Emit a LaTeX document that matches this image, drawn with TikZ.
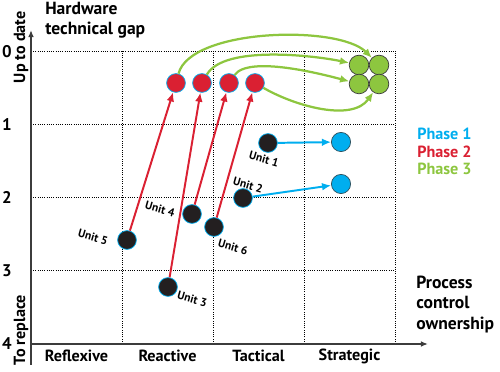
\documentclass[tikz,border=0pt]{standalone}
\usepackage{fontspec}
\setmainfont{PT Sans}
\usetikzlibrary{positioning,arrows.meta}

\definecolor{phaseblue}{RGB}{0,174,239}
\definecolor{phasered}{RGB}{218,32,50}
\definecolor{phasegreen}{RGB}{141,198,63}
\definecolor{unitblack}{RGB}{35,31,32}
\definecolor{axisgray}{RGB}{60,60,60}

\begin{document}
\begin{tikzpicture}[x=1cm,y=1cm,>={Latex[length=6.5pt,width=5.5pt]},
      font=\bfseries\fontsize{11.5}{13.5}\selectfont,
      grid/.style={densely dotted,line width=.6pt},
      axis/.style={-{Latex[length=5pt,width=4pt]},line width=1pt,axisgray},
      unit/.style={circle,fill=unitblack,draw=phaseblue,line width=.5pt,
        minimum size=.47cm,inner sep=0pt},
      phasetwo/.style={unit,fill=phasered},
      phasethree/.style={circle,fill=phasegreen,draw=axisgray,line width=.5pt,
        minimum size=.49cm,inner sep=0pt},
      phaseone/.style={circle,fill=phaseblue,draw=axisgray!80!phaseblue,
        line width=.5pt,minimum size=.48cm,inner sep=0pt},
      unitlabel/.style={font=\bfseries\fontsize{8.2}{10}\selectfont,rotate=-16},
      move/.style={->,line width=1.4pt}]
      \useasboundingbox (-0.775,-0.7) rectangle (11.725,8.6);
      % grid
      \foreach \i in {1,...,4}
        \draw[grid] (\i*2.275,0) -- (\i*2.275,7.32);
      \foreach \i in {1,...,4}
        \draw[grid] (0,\i*1.83) -- (9.1,\i*1.83);
      \draw[axis] (0,-0.525) -- (0,7.85);
      \draw[axis] (0,0) -- (9.925,0);
      \foreach \n in {0,...,4}
        \node (gap\n) at (-0.6,{(4-\n)*1.83}) {\fontsize{12}{14}\selectfont\n};
      \foreach \lab [count=\i] in {Reflexive,Reactive,Tactical,Strategic}
        \node (own\i) at ({(\i-0.5)*2.275},-0.3) {\lab};
      \node[rotate=90] (uptodate) at (-0.25,7.42) {Up to date};
      \node[rotate=90] (toreplace) at (-0.25,0.35) {To replace};
      \node[anchor=west,align=left,inner sep=0pt,
        font=\bfseries\fontsize{12.5}{14.5}\selectfont] (ytitle) at (0.35,8.1)
        {Hardware\\technical gap};
      \node[anchor=west,align=left,inner sep=0pt,
        font=\bfseries\fontsize{12.5}{14.5}\selectfont] (xtitle) at (9.625,0.99)
        {Process\\control\\ownership};
      % legend
      \node[anchor=west,inner sep=0pt,text=phaseblue] (leg1) at (9.65,5.25) {Phase 1};
      \node[anchor=west,inner sep=0pt,text=phasered] (leg2) at (9.65,4.81) {Phase 2};
      \node[anchor=west,inner sep=0pt,text=phasegreen] (leg3) at (9.65,4.37) {Phase 3};
      % units today
      \node[unit] (u1) at (5.925,5.025) {};
      \node[unit] (u2) at (5.3,3.65) {};
      \node[unit] (u3) at (3.425,1.425) {};
      \node[unit] (u4) at (4.025,3.25) {};
      \node[unit] (u5) at (2.4,2.6) {};
      \node[unit] (u6) at (4.575,2.925) {};
      \node[unitlabel] (l1) at (5.825,4.63) {Unit 1};
      \node[unitlabel] (l2) at (5.425,3.98) {Unit 2};
      \node[unitlabel] (l3) at (4.03,1.12) {Unit 3};
      \node[unitlabel] (l4) at (3.225,3.37) {Unit 4};
      \node[unitlabel] (l5) at (1.55,2.67) {Unit 5};
      \node[unitlabel] (l6) at (5.05,2.42) {Unit 6};
      % phase 1
      \node[phaseone] (b1) at (7.75,5.05) {};
      \node[phaseone] (b2) at (7.75,4.0) {};
      % phase 2
      \node[phasetwo] (r1) at (3.625,6.525) {};
      \node[phasetwo] (r2) at (4.275,6.525) {};
      \node[phasetwo] (r3) at (4.95,6.525) {};
      \node[phasetwo] (r4) at (5.6,6.525) {};
      % phase 3
      \node[phasethree] (g1) at (8.2,6.975) {};
      \node[phasethree] (g2) at (8.7,6.975) {};
      \node[phasethree] (g3) at (8.2,6.5) {};
      \node[phasethree] (g4) at (8.7,6.5) {};
      \draw[move,phaseblue] (u1) -- (b1);
      \draw[move,phaseblue] (u2) -- (b2);
      \draw[move,phasered] (u5) -- (r1);
      \draw[move,phasered] (u3) -- (r2);
      \draw[move,phasered] (u4) -- (r3);
      \draw[move,phasered] (u6) -- (r4);
      \draw[move,phasegreen,line width=1.6pt] (r1) to[out=75,in=135,looseness=.62] (g2);
      \draw[move,phasegreen,line width=1.6pt] (r2) to[out=60,in=168,looseness=.62] (g1);
      \draw[move,phasegreen,line width=1.6pt] (r3) to[out=55,in=165,looseness=.55] (g3);
      \draw[move,phasegreen,line width=1.6pt] (r4) to[out=-30,in=-125,looseness=.85] (g4);
    \end{tikzpicture}
\end{document}
